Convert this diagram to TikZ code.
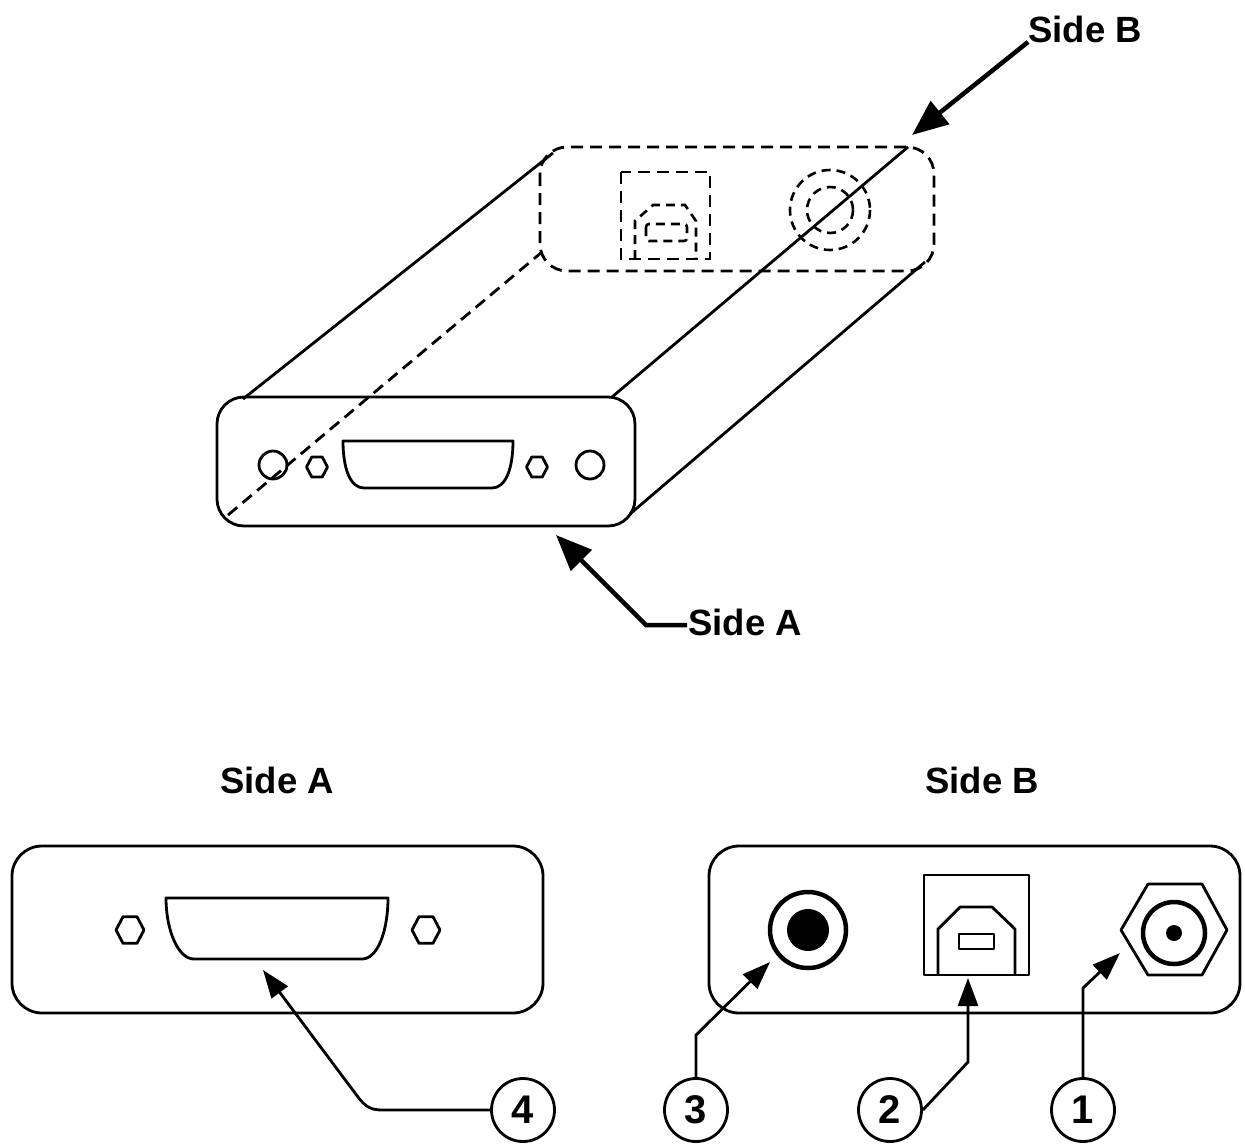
\documentclass[tikz,border=0pt]{standalone}
\usepackage{fontspec}
\setmainfont{Liberation Sans}
\usetikzlibrary{arrows.meta}
\tikzset{
  ln/.style={line width=2.8pt,black,line join=round},
  hid/.style={line width=2.8pt,black,dash pattern=on 12pt off 7pt},
  hidin/.style={line width=2.6pt,black,dash pattern=on 9pt off 6pt},
  lead/.style={line width=2.8pt,black,-{Triangle[length=28pt,width=20pt]}},
  biglead/.style={line width=4.5pt,black,-{Triangle[length=36pt,width=29pt]}},
  lbl/.style={font=\fontsize{36.5}{38}\selectfont\bfseries,inner sep=0pt},
  num/.style={circle,draw,line width=2.8pt,minimum size=63pt,inner sep=0pt,font=\fontsize{40}{42}\selectfont\bfseries},
}
\newcommand{\hexa}[3]{\draw[ln] (#1-#3,#2) -- (#1-#3/2,#2-#3*.95) -- (#1+#3/2,#2-#3*.95) -- (#1+#3,#2) -- (#1+#3/2,#2+#3*.95) -- (#1-#3/2,#2+#3*.95) -- cycle;}
\begin{document}
\begin{tikzpicture}[x=1pt,y=-1pt]
\useasboundingbox (0,0) rectangle (1245,1146);
% ---------- perspective view
\draw[ln,rounded corners=27pt] (217,397) rectangle (635,526);
\draw[hid,rounded corners=27pt] (540,147) rectangle (934,271);
\draw[ln] (243,399) -- (553,153);
\draw[ln] (612,397) -- (908,147);
\draw[ln] (630,514) -- (925,262);
\draw[hid] (228,515) -- (542,252);
% front face
\draw[ln] (273,465) circle (14);
\draw[ln] (590,465) circle (14);
\hexa{317}{467}{10.5}
\hexa{537}{467}{10.5}
\draw[ln] (343,441) -- (513,441) .. controls (513,468) and (506,488) .. (492,488) -- (364,488) .. controls (350,488) and (343,468) .. (343,441) -- cycle;
% back face
\draw[hid] (621,172) rectangle (710,259);
\draw[hidin] (635,259) -- (635,221) -- (653,205) -- (685,205) -- (696,221) -- (696,259);
\draw[hidin,rounded corners=3pt] (646,224) rectangle (687,241);
\draw[hidin] (830,210) circle (40);
\draw[hidin] (830,210) circle (23);
% callouts
\node[lbl] (sb) at (1085,29) {Side B};
\node[lbl] (sa) at (745,622) {Side A};
\coordinate (sbt) at (912,135);
\coordinate (sat) at (556,535);
\coordinate (sav) at (646,625);
\draw[biglead] (sb.west) ++(0,13) -- (sbt);
\draw[biglead] (sa.west) ++(-1,3) -- (sav) -- (sat);
% ---------- Side A
\node[lbl] (ta) at (277,780) {Side A};
\draw[ln,rounded corners=30pt] (12,846) rectangle (543,1013);
\draw[ln] (166,898) -- (388,898) .. controls (388,930) and (378,959) .. (362,959) -- (194,959) .. controls (178,959) and (166,930) .. (166,898) -- cycle;
\hexa{130}{930}{14}
\hexa{426}{930}{14}
\node[num] (n4) at (523,1110) {4};
\coordinate (t4) at (263,970);
\draw[lead] (n4.west) -- (382,1110) .. controls (370,1110) and (365,1106) .. (358,1097) -- (t4);
% ---------- Side B
\node[lbl] (tb) at (982,780) {Side B};
\draw[ln,rounded corners=30pt] (709,846) rectangle (1240,1013);
\draw[line width=4.5pt] (808,930) circle (38);
\fill (808,930) circle (21);
\draw[ln] (924,875) rectangle (1029,975);
\draw[ln] (938,975) -- (938,929) -- (960,907) -- (992,907) -- (1015,929) -- (1015,975);
\draw[ln] (959,934) rectangle (994,949);
\draw[ln] (1121,930) -- (1148,884) -- (1202,884) -- (1227,930) -- (1202,975) -- (1148,975) -- cycle;
\draw[line width=4.5pt] (1174,933) circle (31);
\fill (1174,933) circle (8);
\node[num] (n3) at (696,1110) {3};
\node[num] (n2) at (890,1110) {2};
\node[num] (n1) at (1083,1110) {1};
\coordinate (t3) at (770,962);
\coordinate (t2) at (968,978);
\coordinate (t1) at (1120,953);
\draw[lead] (n3.north) -- (696,1035) -- (t3);
\draw[lead] (n2.east) -- (968,1062) -- (t2);
\draw[lead] (n1.north) -- (1083,988) -- (t1);
\end{tikzpicture}
\end{document}
